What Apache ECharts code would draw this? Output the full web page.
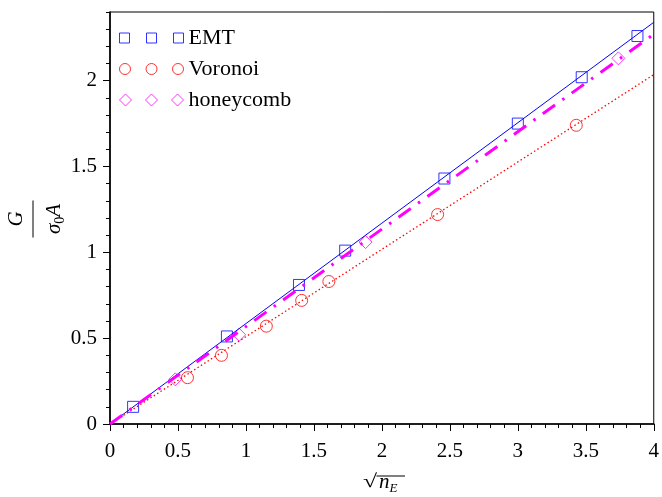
<!DOCTYPE html>
<html>
<head>
<meta charset="utf-8">
<script src="https://cdn.jsdelivr.net/npm/echarts@6/dist/echarts.min.js"></script>
</head>
<body style="margin:0">
<div id="main" style="width:662px;height:497px"></div>
<script>
// points
var emtX = [0.17, 0.86, 1.39, 1.73, 2.46, 3.00, 3.47, 3.88];
var emtY = [0.10, 0.51, 0.81, 1.01, 1.43, 1.75, 2.02, 2.26];
var voronoiX = [0.57, 0.82, 1.15, 1.41, 1.61, 2.41, 3.43];
var voronoiY = [0.27, 0.40, 0.57, 0.72, 0.83, 1.22, 1.74];
var honeyX = [0.48, 0.95, 1.88, 3.74];
var honeyY = [0.26, 0.52, 1.06, 2.13];
// fit lines through the origin (value at x = 0 and x = 4)
var fitX = [0, 4];
var emtFit = [0, 2.34];
var voronoiFit = [0, 2.035];
var honeyFit = [0, 2.27];
var yTickLabels = [0, 0.5, 1, 1.5, 2];

var serif = '"Liberation Serif", "Times New Roman", serif';
var blue = '#0000ff', red = '#ff0000', magenta = '#ff00ff';

function pairs(xs, ys) {
  return xs.map(function (x, i) { return [x, ys[i]]; });
}

var chart = echarts.init(document.getElementById('main'));

var option = {
  animation: false,
  textStyle: { fontFamily: serif },
  grid: { left: 110, right: 5, top: 12, bottom: 73, show: true, borderColor: '#000', borderWidth: 1 },
  legend: {
    orient: 'vertical', left: 119, top: 27, padding: 0, itemGap: 9,
    itemWidth: 64, itemHeight: 12,
    textStyle: { fontFamily: serif, fontSize: 22, color: '#000' },
    data: [
      { name: 'EMT', icon: 'path://M0,0H10V10H0Z M27,0H37V10H27Z M54,0H64V10H54Z',
        itemStyle: { color: 'transparent', borderColor: blue, borderWidth: 1 } },
      { name: 'Voronoi', icon: 'path://M0,5.5A5.5,5.5,0,1,1,11,5.5A5.5,5.5,0,1,1,0,5.5Z M26.5,5.5A5.5,5.5,0,1,1,37.5,5.5A5.5,5.5,0,1,1,26.5,5.5Z M53,5.5A5.5,5.5,0,1,1,64,5.5A5.5,5.5,0,1,1,53,5.5Z',
        itemStyle: { color: 'transparent', borderColor: red, borderWidth: 1 } },
      { name: 'honeycomb', icon: 'path://M6,0L12,6L6,12L0,6Z M32,0L38,6L32,12L26,6Z M58,0L64,6L58,12L52,6Z',
        itemStyle: { color: 'transparent', borderColor: magenta, borderWidth: 1 } }
    ]
  },
  xAxis: {
    type: 'value', min: 0, max: 4, interval: 0.5,
    axisLine: { lineStyle: { color: '#000', width: 1.6 } },
    axisTick: { length: 7, lineStyle: { color: '#000' } },
    minorTick: { show: true, splitNumber: 5, length: 4, lineStyle: { color: '#000' } },
    splitLine: { show: false },
    axisLabel: { color: '#000', fontFamily: serif, fontSize: 21, margin: 17 }
  },
  yAxis: [
    {
      type: 'value', min: 0, max: 2.4, interval: 0.1,
      axisLine: { show: true, lineStyle: { color: '#000', width: 1.6 } },
      axisTick: { length: 7, customValues: yTickLabels, lineStyle: { color: '#000' } },
      splitLine: { show: false },
      axisLabel: { color: '#000', fontFamily: serif, fontSize: 21, margin: 13, customValues: yTickLabels }
    },
    {
      // minor ticks every 0.1
      type: 'value', min: 0, max: 2.4, interval: 0.1, position: 'left', offset: 0,
      axisLine: { show: false },
      axisTick: { length: 4, lineStyle: { color: '#000' } },
      axisLabel: { show: false },
      splitLine: { show: false }
    }
  ],
  series: [
    { type: 'line', data: pairs(fitX, emtFit), showSymbol: false, silent: true,
      lineStyle: { color: blue, width: 1 } },
    { type: 'line', data: pairs(fitX, voronoiFit), showSymbol: false, silent: true,
      lineStyle: { color: red, width: 1.3, type: [1.5, 2.5] } },
    { type: 'line', data: pairs(fitX, honeyFit), showSymbol: false, silent: true,
      lineStyle: { color: magenta, width: 3, type: [15, 9, 2.5, 9] } },
    { name: 'EMT', type: 'scatter', data: pairs(emtX, emtY), symbol: 'rect', symbolSize: 11,
      itemStyle: { color: 'transparent', borderColor: blue, borderWidth: 1 } },
    { name: 'Voronoi', type: 'scatter', data: pairs(voronoiX, voronoiY), symbol: 'circle', symbolSize: 12,
      itemStyle: { color: 'transparent', borderColor: red, borderWidth: 1 } },
    { name: 'honeycomb', type: 'scatter', data: pairs(honeyX, honeyY), symbol: 'diamond', symbolSize: 13,
      itemStyle: { color: 'transparent', borderColor: magenta, borderWidth: 1 } }
  ],
  graphic: [
    {
      // y axis title: G / (sigma_0 A), rotated
      type: 'group', x: 33, y: 219, rotation: Math.PI / 2,
      children: [
        { type: 'text', x: 0, y: -6,
          style: { text: 'G', font: 'italic 21px "Liberation Serif"', fill: '#000', align: 'center', verticalAlign: 'bottom' } },
        { type: 'line', shape: { x1: -18.5, y1: 0, x2: 18.5, y2: 0 }, style: { stroke: '#000', lineWidth: 1 } },
        { type: 'text', x: 0, y: 11,
          style: {
            text: '{i|σ}{s|0}{i|A}', align: 'center', verticalAlign: 'top', fill: '#000',
            rich: {
              i: { fontFamily: serif, fontStyle: 'italic', fontSize: 21, lineHeight: 21, verticalAlign: 'top' },
              s: { fontFamily: serif, fontSize: 14, lineHeight: 14, verticalAlign: 'top', padding: [9, 0, 0, 0] }
            }
          } }
      ]
    },
    {
      // x axis title: sqrt(n_E)
      type: 'group', x: 0, y: 0,
      children: [
        { type: 'text', x: 363, y: 492, scaleX: 1.35, originX: 0, originY: 0,
          style: { text: '√', font: '19px "Liberation Serif"', fill: '#000', align: 'left', verticalAlign: 'bottom' } },
        { type: 'line', shape: { x1: 376.5, y1: 476, x2: 405, y2: 476 }, style: { stroke: '#000', lineWidth: 1 } },
        { type: 'text', x: 379, y: 472,
          style: {
            text: '{i|n}{s|E}', align: 'left', verticalAlign: 'top', fill: '#000',
            rich: {
              i: { fontFamily: serif, fontStyle: 'italic', fontSize: 21, lineHeight: 21, verticalAlign: 'top' },
              s: { fontFamily: serif, fontStyle: 'italic', fontSize: 13, lineHeight: 13, verticalAlign: 'top', padding: [10, 0, 0, 0] }
            }
          } }
      ]
    }
  ]
};

chart.setOption(option);
window.addEventListener('resize', chart.resize);
</script>
</body>
</html>
